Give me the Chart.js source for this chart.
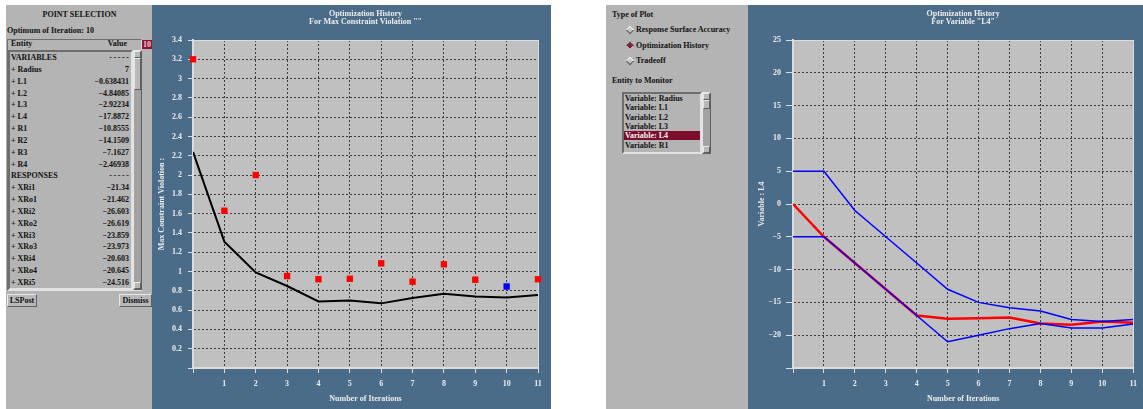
<!DOCTYPE html>
<html>
<head>
<meta charset="utf-8">
<script src="https://cdn.jsdelivr.net/npm/chart.js@4.4.1/dist/chart.umd.min.js"></script>
<style>
  body { margin: 0; width: 1143px; height: 409px; background: #fff; position: relative; overflow: hidden;
         font: bold 8px "Liberation Serif", serif; color: #111; }
  .panel { position: absolute; background: #b4b4b4; }
  .blue { position: absolute; background: #4a6c89; }
  .txt { position: absolute; white-space: nowrap; line-height: 10px; }
  .sunken { position: absolute; box-sizing: border-box; border: 1px solid; border-color: #6e6e6e #e2e2e2 #e2e2e2 #6e6e6e; }
  .raised { position: absolute; box-sizing: border-box; border: 1px solid; border-color: #e6e6e6 #5e5e5e #5e5e5e #e6e6e6; background: #b8b8b8; }
  .row { position: absolute; display: flex; justify-content: space-between; line-height: 10px; white-space: nowrap; }
  .dash { letter-spacing: 1.6px; margin-right: -1.6px; }
  .diamond { position: absolute; width: 6px; height: 6px; transform: rotate(45deg); box-sizing: border-box;
             border: 1px solid; border-color: #f0f0f0 #5a5a5a #5a5a5a #f0f0f0; background: #c4c4c4; }
  .diamond.on { background: #8a1535; border-color: #555 #ddd #ddd #555; }
</style>
</head>
<body>

<!-- left: point selection -->
<div class="panel" style="left:6px;top:5px;width:147px;height:404px;"></div>
<div class="txt" style="left:6px;width:147px;top:10px;text-align:center;">POINT SELECTION</div>
<div class="txt" style="left:7px;top:26px;">Optimum of Iteration: 10</div>
<div class="sunken" style="left:7px;top:39px;width:135px;height:252px;"></div>
<div class="row" style="left:11px;top:39px;width:116px;"><span>Entity</span><span>Value</span></div>
<div class="sunken" style="left:8px;top:50px;width:125px;height:240px;border-width:2px;"></div>
<div class="raised" style="left:133px;top:50px;width:9px;height:240px;background:#a2a2a2;"></div>
<div class="raised" style="left:134px;top:51px;width:7px;height:7px;"></div>
<div class="raised" style="left:134px;top:58px;width:7px;height:32px;"></div>
<div class="raised" style="left:134px;top:282px;width:7px;height:7px;"></div>
<div class="txt" style="left:142px;top:40px;width:10px;height:9px;line-height:9px;background:#8a1535;color:#f0d0d8;text-align:center;">10</div>
<div id="entityRows"></div>
<div class="raised txt" style="left:7px;top:294px;width:30px;height:13px;line-height:11px;text-align:center;">LSPost</div>
<div class="raised txt" style="left:119px;top:294px;width:33px;height:13px;line-height:11px;text-align:center;z-index:2;">Dismiss</div>

<!-- chart 1 -->
<div class="blue" style="left:152px;top:5px;width:399px;height:404px;">
  <canvas id="historyChart" width="399" height="404"></canvas>
</div>

<!-- middle: plot type -->
<div class="panel" style="left:606px;top:5px;width:142px;height:404px;"></div>
<div class="txt" style="left:612px;top:10px;">Type of Plot</div>
<div id="plotTypes"></div>
<div class="txt" style="left:612px;top:76px;">Entity to Monitor</div>
<div class="sunken" style="left:622px;top:92px;width:80px;height:62px;border-width:2px;"></div>
<div class="raised" style="left:702px;top:92px;width:9px;height:62px;background:#a2a2a2;"></div>
<div class="raised" style="left:703px;top:93px;width:7px;height:7px;"></div>
<div class="raised" style="left:703px;top:100px;width:7px;height:9px;"></div>
<div class="raised" style="left:703px;top:146px;width:7px;height:7px;"></div>
<div id="monitorList"></div>

<!-- chart 2 -->
<div class="blue" style="left:748px;top:5px;width:395px;height:404px;">
  <canvas id="variableChart" width="395" height="404"></canvas>
</div>

<script>
// iteration history
const iterations = [0, 1, 2, 3, 4, 5, 6, 7, 8, 9, 10, 11];
const maxViolation = [2.24, 1.31, 0.99, 0.85, 0.69, 0.70, 0.67, 0.725, 0.77, 0.74, 0.73, 0.756];
const pointViolation = [3.2, 1.63, 2.0, 0.953, 0.92, 0.925, 1.085, 0.895, 1.075, 0.915, 0.845, 0.92];
const optimumIteration = 10;

// variable L4 and its region of interest
const l4Value = [0, -5, -9, -13, -17, -17.5, -17.4, -17.3, -18.2, -18.4, -17.9, -18.1];
const l4Upper = [5, 5, -1, -5, -9, -13, -15, -15.8, -16.3, -17.6, -17.9, -17.6];
const l4Lower = [-5, -5, -9, -13, -17, -21, -20, -19, -18.2, -18.9, -18.9, -18.3];

// point selection table
const entityNames = ['VARIABLES', '+ Radius', '+ L1', '+ L2', '+ L3', '+ L4', '+ R1', '+ R2', '+ R3', '+ R4',
    'RESPONSES', '+ XRi1', '+ XRo1', '+ XRi2', '+ XRo2', '+ XRi3', '+ XRo3', '+ XRi4', '+ XRo4', '+ XRi5'];
const entityValues = ['-----', '7', '\u22120.638431', '\u22124.84085', '\u22122.92234', '\u221217.8872',
    '\u221210.8555', '\u221214.1509', '\u22127.1627', '\u22122.46938', '-----', '\u221221.34', '\u221221.462',
    '\u221226.603', '\u221226.619', '\u221223.859', '\u221223.973', '\u221220.603', '\u221220.645', '\u221224.516'];

const plotTypes = ['Response Surface Accuracy', 'Optimization History', 'Tradeoff'];
const selectedPlotType = 1;
const monitorEntities = ['Variable: Radius', 'Variable: L1', 'Variable: L2', 'Variable: L3', 'Variable: L4', 'Variable: R1'];
const selectedEntity = 4;

// build the side panels
const rowsEl = document.getElementById('entityRows');
entityNames.forEach((name, i) => {
    const row = document.createElement('div');
    row.className = 'row';
    row.style.left = '11px';
    row.style.width = '118px';
    row.style.top = (53 + i * 11.84) + 'px';
    const value = entityValues[i];
    row.innerHTML = `<span>${name}</span><span${value === '-----' ? ' class="dash"' : ''}>${value}</span>`;
    rowsEl.appendChild(row);
});

const typesEl = document.getElementById('plotTypes');
plotTypes.forEach((t, i) => {
    const y = 30 + i * 15.7;
    const d = document.createElement('div');
    d.className = 'diamond' + (i === selectedPlotType ? ' on' : '');
    d.style.left = '627px';
    d.style.top = (y - 3) + 'px';
    typesEl.appendChild(d);
    const label = document.createElement('div');
    label.className = 'txt';
    label.style.left = '636px';
    label.style.top = (y - 5) + 'px';
    label.textContent = t;
    typesEl.appendChild(label);
});

const listEl = document.getElementById('monitorList');
monitorEntities.forEach((t, i) => {
    const item = document.createElement('div');
    item.className = 'txt';
    item.style.left = '624px';
    item.style.top = (94 + i * 9.3) + 'px';
    item.style.width = '75px';
    item.style.height = '9px';
    item.style.lineHeight = '9px';
    item.style.paddingLeft = '1px';
    if (i === selectedEntity) {
        item.style.background = '#7d0d2d';
        item.style.color = '#f2f2f2';
    }
    item.textContent = t;
    listEl.appendChild(item);
});

// chart helpers
const font8 = { family: 'Liberation Serif', weight: 'bold', size: 8 };
const labelColor = '#ececec';
const frameColor = '#dcdcdc';
const toPoints = ys => iterations.map((x, i) => ({ x, y: ys[i] }));
const isLastTick = ctx => ctx.index === ctx.scale.ticks.length - 1;

// gray plotting area
const plotBackground = {
    id: 'plotBackground',
    beforeDraw(chart) {
        const { ctx, chartArea: a } = chart;
        ctx.save();
        ctx.fillStyle = '#c0c0c0';
        ctx.fillRect(a.left, a.top, a.right - a.left, a.bottom - a.top);
        ctx.restore();
    }
};

function makeScale(opts) {
    return {
        type: 'linear',
        min: opts.min,
        max: opts.max,
        ticks: {
            stepSize: opts.step,
            autoSkip: false,
            maxRotation: 0,
            color: labelColor,
            font: font8,
            padding: opts.padding,
            callback: opts.label
        },
        grid: {
            color: ctx => isLastTick(ctx) ? frameColor : '#3c3c3c',
            lineWidth: 1,
            tickColor: frameColor,
            tickLength: opts.tickLength,
            tickWidth: 1
        },
        border: {
            color: frameColor,
            width: 2,
            dash: ctx => isLastTick(ctx) ? [] : [2, 2]
        },
        title: {
            display: true,
            text: opts.title,
            color: labelColor,
            font: font8,
            padding: opts.titlePadding
        },
        afterFit: opts.fit
    };
}

function titleOptions(lines) {
    return {
        display: true,
        text: lines,
        fullSize: false,
        color: labelColor,
        font: { family: 'Liberation Serif', weight: 'bold', size: 8, lineHeight: 1 },
        padding: { top: 5, bottom: 14 }
    };
}

// Render max constraint violation history
new Chart(document.getElementById('historyChart'), {
    type: 'line',
    data: {
        datasets: [
            {
                label: 'Computed',
                data: toPoints(pointViolation),
                showLine: false,
                pointStyle: 'rect',
                pointRadius: 4.5,
                pointBorderWidth: 0,
                pointBackgroundColor: iterations.map(i => i === optimumIteration ? '#0000ff' : '#ff0000'),
                clip: false
            },
            {
                label: 'Predicted',
                data: toPoints(maxViolation),
                borderColor: '#000000',
                borderWidth: 2,
                pointRadius: 0,
                fill: false
            }
        ]
    },
    options: {
        responsive: false,
        animation: false,
        events: [],
        layout: { padding: { left: 0, right: 13, top: 0, bottom: 0 } },
        plugins: {
            legend: { display: false },
            tooltip: { enabled: false },
            title: titleOptions(['Optimization History', 'For Max Constraint Violation ""'])
        },
        scales: {
            x: makeScale({
                min: 0, max: 11, step: 1, padding: 6, tickLength: 5,
                label: v => v === 0 ? '' : v,
                title: 'Number of Iterations',
                titlePadding: { top: 0, bottom: 5 },
                fit: s => { s.height = 41; }
            }),
            y: makeScale({
                min: 0, max: 3.4, step: 0.2, padding: 6, tickLength: 5,
                label: v => v === 0 ? '' : String(+v.toFixed(1)),
                title: 'Max Constraint Violation :',
                titlePadding: { top: 5, bottom: 0 },
                fit: s => { s.width = 41; }
            })
        }
    },
    plugins: [plotBackground]
});

// Render variable L4 history
new Chart(document.getElementById('variableChart'), {
    type: 'line',
    data: {
        datasets: [
            {
                label: 'Upper bound',
                data: toPoints(l4Upper),
                borderColor: '#0000ff',
                borderWidth: 1.5,
                pointRadius: 0,
                fill: false
            },
            {
                label: 'Lower bound',
                data: toPoints(l4Lower),
                borderColor: '#0000ff',
                borderWidth: 1.5,
                pointRadius: 0,
                fill: false
            },
            {
                label: 'L4',
                data: toPoints(l4Value),
                borderColor: '#ff0000',
                borderWidth: 2.5,
                pointRadius: 0,
                fill: false
            }
        ]
    },
    options: {
        responsive: false,
        animation: false,
        events: [],
        layout: { padding: { left: 0, right: 5, top: 0, bottom: 0 } },
        plugins: {
            legend: { display: false },
            tooltip: { enabled: false },
            title: titleOptions(['Optimization History', 'For Variable "L4"'])
        },
        scales: {
            x: makeScale({
                min: 0, max: 11, step: 1, padding: 6, tickLength: 5,
                label: v => v === 0 ? '' : v,
                title: 'Number of Iterations',
                titlePadding: { top: 0, bottom: 5 },
                fit: s => { s.height = 41; }
            }),
            y: makeScale({
                min: -25, max: 25, step: 5, padding: 5, tickLength: 7,
                label: v => v === -25 ? '' : (v < 0 ? '\u2212' + (-v) : String(v)),
                title: 'Variable : L4',
                titlePadding: { top: 9, bottom: 0 },
                fit: s => { s.width = 45; }
            })
        }
    },
    plugins: [plotBackground]
});
</script>
</body>
</html>
